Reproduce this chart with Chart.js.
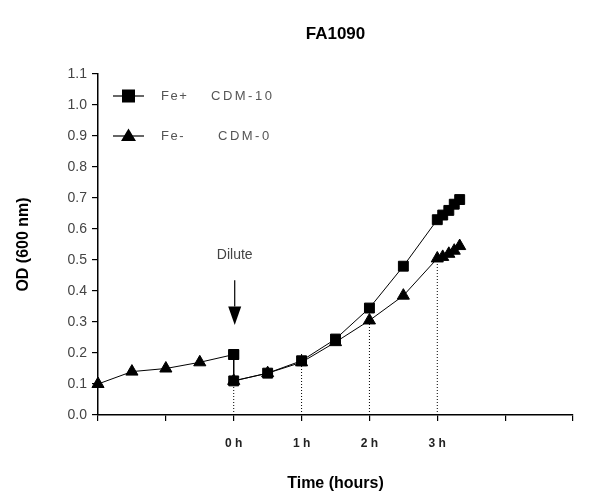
<!DOCTYPE html>
<html>
<head>
<meta charset="utf-8">
<script src="https://cdn.jsdelivr.net/npm/chart.js@4"></script>
<style>
  html, body { margin: 0; padding: 0; background: #fff; }
  #wrap { width: 598px; height: 500px; }
</style>
</head>
<body>
<div id="wrap"><canvas id="growthChart" width="598" height="500"></canvas></div>
<script>
// ─── Data ─────────────────────────────────────────────────────────────────────
const preTime    = [-2, -1.5, -1, -0.5, 0];
const preOD      = [0.10, 0.14, 0.15, 0.17, 0.195];
const preStyles  = ['triangle', 'triangle', 'triangle', 'triangle', 'rect'];

const fePlusTime = [0, 0, 0.5, 1, 1.5, 2, 2.5, 3, 3.08, 3.17, 3.25, 3.33];
const fePlusOD   = [0.195, 0.11, 0.135, 0.175, 0.245, 0.345, 0.48, 0.63, 0.645, 0.66, 0.68, 0.695];

const feMinusTime = [0, 0.5, 1, 1.5, 2, 2.5, 3, 3.08, 3.17, 3.25, 3.33];
const feMinusOD   = [0.11, 0.135, 0.17, 0.235, 0.305, 0.385, 0.505, 0.51, 0.52, 0.53, 0.545];

const dropTime = [0, 1, 2, 3];
const dropTop  = [0.11, 0.2, 0.305, 0.505];

const xTickHours = [0, 1, 2, 3];
const legendRows = [
  { style: 'rect',     name: 'Fe+', medium: 'CDM-10' },
  { style: 'triangle', name: 'Fe-', medium: 'CDM-0' }
];

const FONT = '"Liberation Sans", Arial, sans-serif';

const toPoints = (xs, ys) => xs.map((x, i) => ({ x, y: ys[i] }));

// dotted drop lines from axis to each hour mark
const dropSets = dropTime.map((t, i) => ({
  data: [{ x: t, y: 0 }, { x: t, y: dropTop[i] }],
  borderColor: '#000', borderWidth: 1, borderDash: [1, 2],
  pointRadius: 0, showLine: true, clip: false, order: 5
}));

// ─── Annotations: title, legend, dilute arrow ─────────────────────────────────
const annotations = {
  id: 'annotations',
  afterDraw(chart) {
    const { ctx, chartArea: ca, scales: { x, y } } = chart;
    ctx.save();

    // title
    ctx.fillStyle = '#000';
    ctx.font = `bold 17px ${FONT}`;
    ctx.textAlign = 'center'; ctx.textBaseline = 'middle';
    ctx.fillText('FA1090', (ca.left + ca.right) / 2, 34);

    // legend
    legendRows.forEach((row, i) => {
      const ly = ca.top + 22 + i * 40;
      const lx = ca.left + 15;
      ctx.strokeStyle = '#000'; ctx.lineWidth = 1.2;
      ctx.beginPath(); ctx.moveTo(lx, ly); ctx.lineTo(lx + 31, ly); ctx.stroke();
      ctx.fillStyle = '#000';
      if (row.style === 'rect') {
        ctx.fillRect(lx + 9, ly - 6.5, 13, 13);
      } else {
        ctx.beginPath();
        ctx.moveTo(lx + 15.5, ly - 7.5); ctx.lineTo(lx + 23, ly + 5); ctx.lineTo(lx + 8, ly + 5);
        ctx.closePath(); ctx.fill();
      }
      ctx.fillStyle = '#555';
      ctx.font = `13px ${FONT}`;
      ctx.textAlign = 'left';
      ctx.letterSpacing = '1.5px';
      ctx.fillText(row.name, lx + 48, ly);
      ctx.letterSpacing = '2.5px';
      ctx.fillText(row.medium, lx + (row.name === 'Fe+' ? 98 : 105), ly);
      ctx.letterSpacing = '0px';
    });

    // dilute arrow at t = 0
    const ax = x.getPixelForValue(0) + 1;
    ctx.fillStyle = '#444';
    ctx.font = `14px ${FONT}`;
    ctx.textAlign = 'center';
    ctx.fillText('Dilute', ax, y.getPixelForValue(0.515));
    const top = y.getPixelForValue(0.435), base = y.getPixelForValue(0.35), tip = y.getPixelForValue(0.29);
    ctx.strokeStyle = '#000'; ctx.lineWidth = 1.2;
    ctx.beginPath(); ctx.moveTo(ax, top); ctx.lineTo(ax, base); ctx.stroke();
    ctx.fillStyle = '#000';
    ctx.beginPath(); ctx.moveTo(ax - 6.5, base); ctx.lineTo(ax + 6.5, base); ctx.lineTo(ax, tip);
    ctx.closePath(); ctx.fill();

    ctx.restore();
  }
};

// ─── Chart ────────────────────────────────────────────────────────────────────
new Chart(document.getElementById('growthChart').getContext('2d'), {
  type: 'scatter',
  data: {
    datasets: [
      {
        label: 'Fe+ CDM-10', data: toPoints(fePlusTime, fePlusOD),
        showLine: true, borderColor: '#000', borderWidth: 1,
        pointStyle: 'rect', pointRadius: 7, pointBackgroundColor: '#000', pointBorderColor: '#000',
        clip: false, order: 1
      },
      {
        label: 'Fe- CDM-0', data: toPoints(feMinusTime, feMinusOD),
        showLine: true, borderColor: '#000', borderWidth: 1,
        pointStyle: 'triangle', pointRadius: 7, pointBackgroundColor: '#000', pointBorderColor: '#000',
        clip: false, order: 2
      },
      {
        label: 'pre', data: toPoints(preTime, preOD),
        showLine: true, borderColor: '#000', borderWidth: 1,
        pointStyle: preStyles, pointRadius: 7, pointBackgroundColor: '#000', pointBorderColor: '#000',
        clip: false, order: 3
      },
      ...dropSets
    ]
  },
  options: {
    responsive: false, animation: false,
    layout: { padding: { top: 74, right: 25, left: 0, bottom: 0 } },
    plugins: { legend: { display: false }, tooltip: { enabled: false } },
    scales: {
      x: {
        type: 'linear', min: -2, max: 5,
        afterFit: s => { s.height = 85; },
        ticks: {
          stepSize: 1, color: '#222', padding: 15, maxRotation: 0,
          font: { family: FONT, size: 12, weight: 'bold' },
          callback: v => xTickHours.includes(v) ? `${v} h` : ''
        },
        grid: { drawOnChartArea: false, drawTicks: true, tickLength: 6, color: '#000', lineWidth: 1.2 },
        border: { display: true, color: '#000', width: 1.5 },
        title: {
          display: true, text: 'Time (hours)', color: '#000',
          font: { family: FONT, size: 16, weight: 'bold' }, padding: { top: 0, bottom: 7 }
        }
      },
      y: {
        min: 0, max: 1.1,
        afterFit: s => { s.width = 98; },
        ticks: {
          stepSize: 0.1, color: '#444', padding: 5,
          font: { family: FONT, size: 14 },
          callback: v => v.toFixed(1)
        },
        grid: { drawOnChartArea: false, drawTicks: true, tickLength: 6, color: '#000', lineWidth: 1.2 },
        border: { display: true, color: '#000', width: 1.5 },
        title: {
          display: true, text: 'OD (600 nm)', color: '#000',
          font: { family: FONT, size: 16, weight: 'bold' }, padding: { top: 14, bottom: 0 }
        }
      }
    }
  },
  plugins: [annotations]
});
</script>
</body>
</html>
